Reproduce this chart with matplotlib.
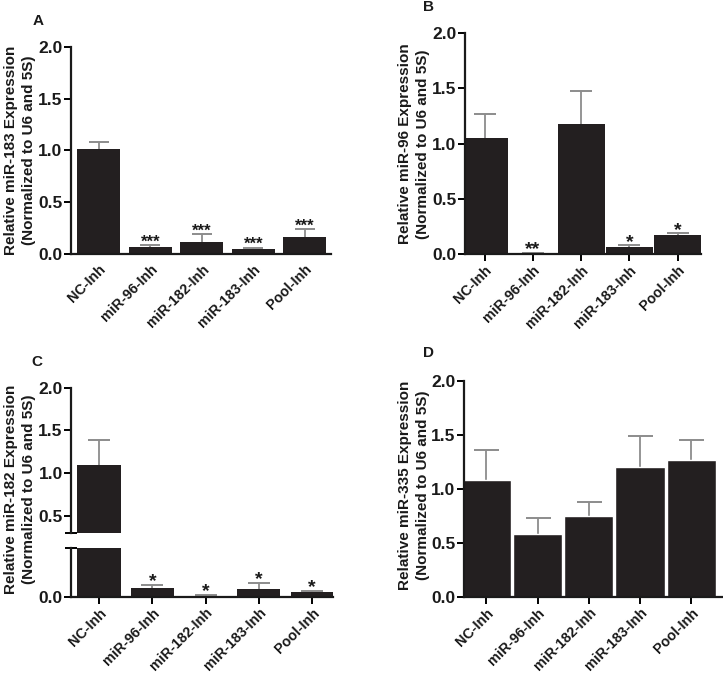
import matplotlib
matplotlib.use("Agg")
import matplotlib.pyplot as plt
import numpy as np

plt.rcParams['font.family'] = ['Liberation Sans', 'DejaVu Sans']
plt.rcParams['font.weight'] = 'bold'

categories = ["NC-Inh", "miR-96-Inh", "miR-182-Inh", "miR-183-Inh", "Pool-Inh"]

A_vals = [1.01, 0.07, 0.12, 0.05, 0.16]
A_err = [0.07, 0.015, 0.07, 0.008, 0.08]
A_stars = ["", "***", "***", "***", "***"]

B_vals = [1.05, 0.01, 1.18, 0.063, 0.17]
B_err = [0.22, 0.003, 0.30, 0.017, 0.02]
B_stars = ["", "**", "", "*", "*"]

C_vals = [1.09, 0.043, 0.005, 0.041, 0.024]
C_err = [0.30, 0.018, 0.004, 0.029, 0.005]
C_stars = ["", "*", "*", "*", "*"]

D_vals = [1.08, 0.58, 0.75, 1.20, 1.27]
D_err = [0.28, 0.15, 0.13, 0.29, 0.18]

ylabels = ["Relative miR-183 Expression\n(Normalized to U6 and 5S)",
           "Relative miR-96 Expression\n(Normalized to U6 and 5S)",
           "Relative miR-182 Expression\n(Normalized to U6 and 5S)",
           "Relative miR-335 Expression\n(Normalized to U6 and 5S)"]
yticks = [0.0, 0.5, 1.0, 1.5, 2.0]

W, H = 723, 673
fig = plt.figure(figsize=(W / 100, H / 100), dpi=100)

BAR = '#231f20'
ECOL = '#8c8c8c'
CAPC = '#3a3a3a'
TXT = '#1a1a1a'


def box(l, r, t, b):
    return [l / W, 1 - b / H, (r - l) / W, (b - t) / H]


def style(ax, xticks=True):
    for s in ['top', 'right']:
        ax.spines[s].set_visible(False)
    for s in ['left', 'bottom']:
        ax.spines[s].set_linewidth(1.6)
        ax.spines[s].set_color(TXT)
    ax.tick_params(axis='y', length=5, width=1.4, labelsize=12.5, pad=1, labelcolor=TXT)
    ax.tick_params(axis='x', length=5 if xticks else 0, width=1.4, labelsize=10.3,
                   pad=1.5 if xticks else 6, labelcolor=TXT)


def bars(ax, vals, errs, width, capsize, edge=None, stars=None, star_off=1, star_fs=12):
    x = np.arange(len(vals))
    ax.bar(x, vals, width=width, color=BAR, edgecolor=edge if edge else BAR,
           linewidth=1.0 if edge else 0, zorder=2)
    lo = np.zeros(len(vals))
    res = ax.errorbar(x, vals, yerr=[lo, errs], fmt='none', ecolor=ECOL,
                      elinewidth=1.3, capsize=capsize, capthick=1.4, zorder=1)
    caps = res[1]
    if len(caps) == 2:
        caps[0].set_visible(False)
        caps[1].set_color(CAPC)
    if stars:
        for xi, v, e, s in zip(x, vals, errs, stars):
            if s:
                ax.annotate(s, (xi, v + e), xytext=(0, star_off), textcoords='offset points',
                            ha='center', va='bottom', fontsize=star_fs, fontweight='bold',
                            color=TXT, annotation_clip=False)
    return x


def xlabels(ax, x):
    ax.set_xticks(x)
    ax.set_xticklabels(categories, rotation=45, ha='right', rotation_mode='anchor')


def ylab(xpx, ypx, text):
    fig.text(xpx / W, 1 - ypx / H, text, rotation=90, ha='center', va='center',
             fontsize=11, fontweight='bold', linespacing=1.35, color=TXT)


def letter(xpx, ypx, text):
    fig.text(xpx / W, 1 - ypx / H, text, ha='center', va='center', fontsize=11,
             fontweight='bold', color=TXT)


# Panel A
axA = fig.add_axes(box(70.7, 331, 46.7, 254))
x = bars(axA, A_vals, A_err, 0.83, 7.5, stars=A_stars, star_off=-3, star_fs=12)
axA.set_xlim(-0.545, 4.51)
axA.set_ylim(0, 2.0)
axA.set_yticks(yticks)
axA.set_yticklabels([f"{v:.1f}" for v in yticks])
style(axA, xticks=False)
xlabels(axA, x)
ylab(20, 150, ylabels[0])
letter(38, 21, "A")

# Panel B
axB = fig.add_axes(box(464.7, 701, 33.3, 254))
x = bars(axB, B_vals, B_err, 0.97, 8, stars=B_stars, star_off=-4, star_fs=14)
axB.set_xlim(-0.41, 4.48)
axB.set_ylim(0, 2.0)
axB.set_yticks(yticks)
axB.set_yticklabels([f"{v:.1f}" for v in yticks])
style(axB)
xlabels(axB, x)
ylab(414, 144, ylabels[1])
letter(429, 7, "B")

# Panel C (broken axis)
axCu = fig.add_axes(box(71, 333, 387.7, 532.7))
axCl = fig.add_axes(box(71, 333, 547.7, 596.7))
bars(axCu, C_vals, C_err, 0.81, 8)
x = bars(axCl, C_vals, C_err, 0.81, 8, stars=C_stars, star_off=-4, star_fs=14)
for ax in (axCu, axCl):
    ax.set_xlim(-0.525, 4.39)
axCu.set_ylim(0.3, 2.0)
axCl.set_ylim(0, 0.25)
axCu.set_yticks([0.5, 1.0, 1.5, 2.0])
axCu.set_yticklabels(["0.5", "1.0", "1.5", "2.0"])
axCl.set_yticks([0.0])
axCl.set_yticklabels(["0.0"])
style(axCu, xticks=False)
style(axCl)
axCu.spines['bottom'].set_visible(False)
axCu.set_xticks([])
axCu.set_yticks([0.3], minor=True)
axCu.tick_params(axis='y', which='minor', direction='inout', length=9, width=1.4)
axCl.set_yticks([0.25], minor=True)
axCl.tick_params(axis='y', which='minor', direction='inout', length=9, width=1.4)
xlabels(axCl, x)
ylab(20, 489, ylabels[2])
letter(37, 362, "C")

# Panel D
axD = fig.add_axes(box(463.7, 722, 381, 596.7))
x = bars(axD, D_vals, D_err, 0.96, 9, edge='white')
axD.set_xlim(-0.44, 4.6)
axD.set_ylim(0, 2.0)
axD.set_yticks(yticks)
axD.set_yticklabels([f"{v:.1f}" for v in yticks])
style(axD)
xlabels(axD, x)
ylab(414, 485, ylabels[3])
letter(429, 353, "D")

fig.savefig("out.png", dpi=100)
